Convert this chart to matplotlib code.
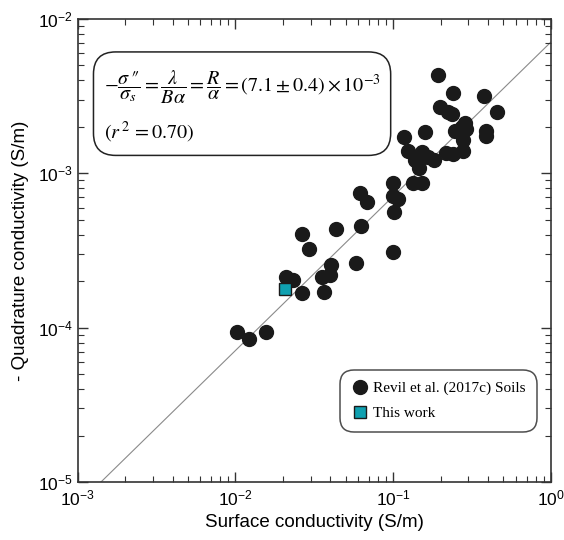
import matplotlib
matplotlib.use("Agg")
import matplotlib.pyplot as plt
from matplotlib.ticker import LogLocator, NullFormatter
import numpy as np

# Revil et al. (2017c) soils: surface conductivity (S/m), -quadrature conductivity (S/m)
soil_sigma_s = [0.0102, 0.0122, 0.0157, 0.0209, 0.0233, 0.0266, 0.0265, 0.0293,
                0.0365, 0.0353, 0.0398, 0.0402, 0.0433, 0.0582, 0.0626, 0.0617,
                0.0687, 0.0993, 0.1018, 0.0993, 0.100, 0.108, 0.134, 0.152,
                0.192, 0.241, 0.378, 0.454, 0.198, 0.224, 0.235, 0.286,
                0.272, 0.247, 0.290, 0.279, 0.276, 0.388, 0.388, 0.159,
                0.117, 0.125, 0.152, 0.167, 0.182, 0.215, 0.239, 0.138, 0.145]
soil_quad = [9.4e-5, 8.4e-5, 9.4e-5, 2.12e-4, 2.03e-4, 1.67e-4, 4.05e-4, 3.21e-4,
             1.71e-4, 2.14e-4, 2.19e-4, 2.55e-4, 4.36e-4, 2.64e-4, 4.54e-4, 7.41e-4,
             6.55e-4, 3.08e-4, 5.58e-4, 8.61e-4, 7.16e-4, 6.78e-4, 8.61e-4, 8.61e-4,
             4.34e-3, 3.30e-3, 3.17e-3, 2.48e-3, 2.70e-3, 2.51e-3, 2.42e-3, 2.11e-3,
             2.00e-3, 1.89e-3, 1.93e-3, 1.64e-3, 1.40e-3, 1.88e-3, 1.74e-3, 1.85e-3,
             1.73e-3, 1.40e-3, 1.38e-3, 1.28e-3, 1.22e-3, 1.36e-3, 1.33e-3, 1.22e-3, 1.08e-3]

# This work
this_sigma_s = [0.0205]
this_quad = [1.77e-4]

# Fitted ratio
ratio = 7.1e-3
line_x = [1e-3, 1.0]

plt.rcParams['mathtext.fontset'] = 'stix'
plt.rcParams['font.family'] = ['Liberation Sans', 'DejaVu Sans']

fig = plt.figure(figsize=(5.64, 5.40), dpi=100)
ax = fig.add_axes([77.5/564, 1 - 482/540, (551-77.5)/564, (482-19)/540])

ax.plot(line_x, [ratio*v for v in line_x], color='#8a8a8a', lw=0.8, zorder=1)
ax.plot(soil_sigma_s, soil_quad, 'o', ms=10, color='#1a1a1a', mec='#1a1a1a',
        label='Revil et al. (2017c) Soils', zorder=3)
ax.plot(this_sigma_s, this_quad, 's', ms=9, color='#0fa0b0', mec='#1a1a1a',
        mew=1.0, label='This work', zorder=4)

ax.set_xscale('log')
ax.set_yscale('log')
ax.set_xlim(1e-3, 1)
ax.set_ylim(1e-5, 1e-2)

for s in ax.spines.values():
    s.set_linewidth(1.2)
    s.set_color('#333333')

ax.tick_params(which='both', direction='in', top=True, right=True, colors='#333333',
               labelcolor='black', labelsize=12.5)
ax.tick_params(which='major', length=7, width=1)
ax.tick_params(which='minor', length=4, width=0.8)
ax.tick_params(axis='x', which='major', pad=5)
ax.xaxis.set_minor_locator(LogLocator(base=10, subs=np.arange(2, 10)))
ax.yaxis.set_minor_locator(LogLocator(base=10, subs=np.arange(2, 10)))
ax.xaxis.set_minor_formatter(NullFormatter())
ax.yaxis.set_minor_formatter(NullFormatter())

ax.set_xlabel('Surface conductivity (S/m)', fontsize=13.5, labelpad=4)
ax.set_ylabel('- Quadrature conductivity (S/m)', fontsize=13.5, labelpad=6)

eq = (r'$-\dfrac{\sigma\,″}{\sigma_s}=\dfrac{\lambda}{B\alpha}=\dfrac{R}{\alpha}'
      r'=(7.1\pm 0.4)\times 10^{-3}$' + '\n' + r'$(r^{\,2}\,=0.70)$')
ax.text(0.055, 0.892, eq, transform=ax.transAxes, fontsize=14.5, va='top', ha='left',
        linespacing=1.75,
        bbox=dict(boxstyle='round,pad=0.5,rounding_size=1.1', fc='white',
                  ec='#222222', lw=1.1))

leg = ax.legend(loc='lower right', bbox_to_anchor=(0.963, 0.115),
                prop={'family': 'Liberation Serif', 'size': 11}, frameon=True,
                fancybox=True, handletextpad=0.25, borderpad=0.55,
                labelspacing=0.75, handlelength=1.1, borderaxespad=0)
leg.get_frame().set_edgecolor('#222222')
leg.get_frame().set_linewidth(1.1)
leg.get_frame().set_boxstyle('round,pad=0.2,rounding_size=0.9')

fig.savefig('out.png', dpi=100)
